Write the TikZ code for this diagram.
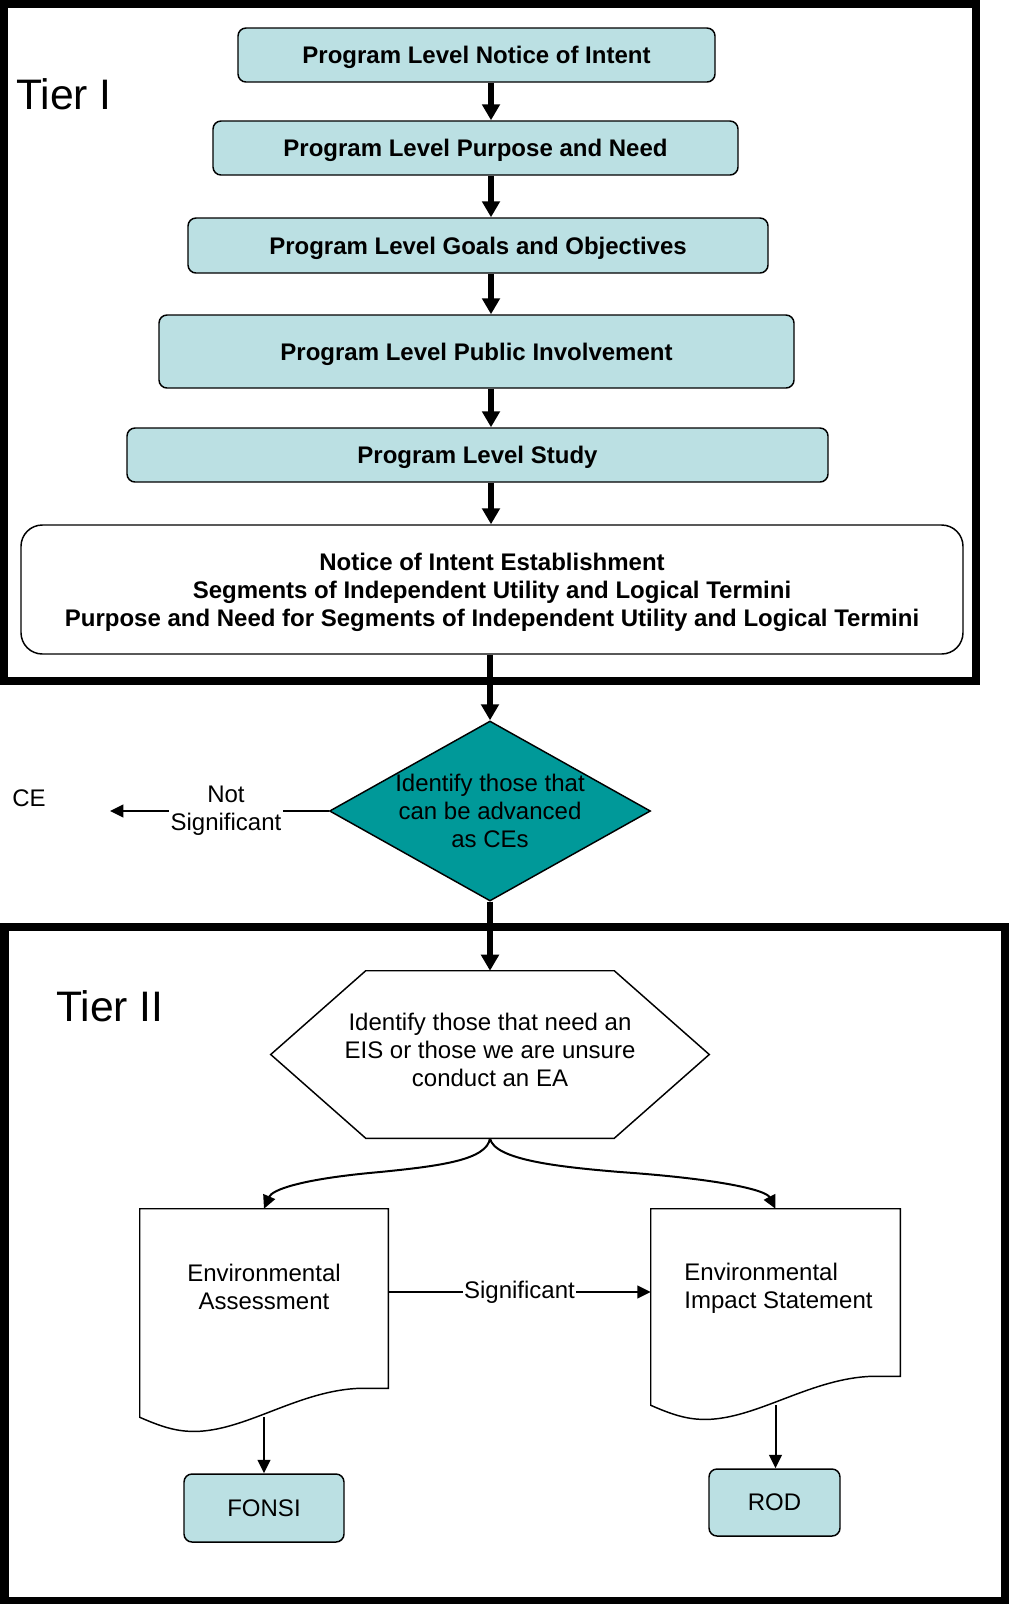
\documentclass[tikz,border=0pt]{standalone}
\usepackage{fontspec}
\setmainfont{Liberation Sans}
\usepackage{tikz}
\usetikzlibrary{arrows.meta}
\usetikzlibrary{shapes.geometric}
\usetikzlibrary{calc}
\definecolor{box teal}{HTML}{BBE0E3}
\definecolor{decision teal}{HTML}{009999}
\tikzset{
  plain/.style={inner sep=0pt, align=center, font=\fontsize{18pt}{21pt}\selectfont},
  stepbox/.style={draw, line width=1.1pt, rounded corners=6pt, fill=box teal, inner sep=0pt, text depth=0pt, align=center, font=\bfseries\fontsize{18pt}{21pt}\selectfont},
  endbox/.style={stepbox, font=\fontsize{18pt}{21pt}\selectfont},
  decision/.style={plain, shape=diamond, draw, line width=1.1pt, fill=decision teal, aspect=1.78, inner sep=-6pt, text depth=0pt},
  docbox/.style={inner sep=0pt},
  shapeline/.style={line width=1.1pt},
  tierframe/.style={line width=6pt},
  tierlabel/.style={inner sep=0pt, font=\fontsize{32pt}{36pt}\selectfont},
  bigarrow/.style={line width=4.3pt, -{Triangle[length=12pt,width=13pt]}},
  thinarrow/.style={line width=1.5pt, -{Triangle[length=10pt,width=9.5pt]}}
}
\newcommand{\docoutline}[1]{%
  \draw[shapeline] (#1.north west) -- (#1.south west)
    .. controls ($(#1.south west)+(25,11)$) and ($(#1.south west)+(40,15)$) .. ($(#1.south west)+(60,14)$)
    .. controls ($(#1.south west)+(110,11)$) and ($(#1.south east)+(-88,-27)$) .. ($(#1.south east)+(-28,-29)$)
    -- ($(#1.south east)+(0,-29)$) -- (#1.north east) -- cycle;}

\begin{document}
\begin{tikzpicture}[x=0.75pt,y=-0.75pt]
\useasboundingbox (0,0) rectangle (1008,1604);
\draw[tierframe] (4,4) rectangle (976,681);
\draw[tierframe] (4.5,927) rectangle (1004.5,1601);
\node[tierlabel, anchor=west] (tier one) at (16,94) {Tier I};
\node[tierlabel, anchor=west] (tier two) at (56,1006) {Tier II};

\coordinate (spine) at (491,0);
\node[stepbox, minimum width=357.75pt, minimum height=40.5pt] (b1) at (476.5,55) {Program Level Notice of Intent};
\node[stepbox, minimum width=393.75pt, minimum height=40.5pt] (b2) at (475.5,148) {Program Level Purpose and Need};
\node[stepbox, minimum width=435pt, minimum height=41.25pt] (b3) at (478,245.5) {Program Level Goals and Objectives};
\node[stepbox, minimum width=476.25pt, minimum height=54.75pt] (b4) at (476.5,351.5) {Program Level Public Involvement};
\node[stepbox, minimum width=525.75pt, minimum height=40.5pt] (b5) at (477.5,455) {Program Level Study};
\node[stepbox, fill=white, rounded corners=16pt, minimum width=706.5pt, minimum height=96.75pt] (b6) at (492,589.5) {Notice of Intent Establishment\\Segments of Independent Utility and Logical Termini\\Purpose and Need for Segments of Independent Utility and Logical Termini};
\foreach \a/\b in {b1/b2,b2/b3,b3/b4,b4/b5,b5/b6}
  \draw[bigarrow] (\a.south -| spine) -- (\b.north -| spine);

\node[decision, minimum width=240.75pt, minimum height=135pt] (dia) at (490,811) {Identify those that\\can be advanced\\as CEs};
\draw[bigarrow] (b6.south -| dia.north) -- (dia.north);
\node[plain] (ce) at (29,798) {CE};
\coordinate (ce tip) at (110,811);
\draw[thinarrow] (dia.west) -- node[pos=0.47, plain, fill=white, inner sep=1pt] (not sig) {Not\\Significant} (ce tip);

\node[plain, text depth=7.5pt, minimum width=328.5pt, minimum height=125.25pt] (hex) at (490,1054.5) {Identify those that need an\\EIS or those we are unsure\\conduct an EA};
\draw[shapeline] (hex.west) -- ([xshift=71.25pt]hex.north west) -- ([xshift=-71.25pt]hex.north east) -- (hex.east) -- ([xshift=-71.25pt]hex.south east) -- ([xshift=71.25pt]hex.south west) -- cycle;
\draw[bigarrow] (dia.south) -- (hex.north);

\node[docbox, minimum width=186pt, minimum height=156pt] (ea) at (264,1313) {};
\node[plain] (ea text) at ($(ea.north)+(0,78.5)$) {Environmental\\Assessment};
\docoutline{ea}
\node[docbox, minimum width=186.75pt, minimum height=147pt] (eis) at (775.5,1307) {};
\node[plain, align=left] (eis text) at ($(eis.north)+(3,80)$) {Environmental\\Impact Statement};
\docoutline{eis}

\draw[thinarrow] (hex.south) .. controls (487,1160) and (440,1166) .. (380,1172) .. controls (300,1179) and (272,1190) .. (ea.north);
\draw[thinarrow] (hex.south) .. controls (494,1160) and (560,1167) .. (620,1172) .. controls (720,1179) and (766,1190) .. (eis.north);

\coordinate (sig level) at (0,1292);
\draw[thinarrow] (ea.east |- sig level) -- node[plain, fill=white, inner sep=1pt] (sig) {Significant} (eis.west |- sig level);

\node[endbox, minimum width=120pt, minimum height=51pt] (fonsi) at (264,1508) {FONSI};
\node[endbox, minimum width=98.25pt, minimum height=50.25pt] (rod) at (774.5,1502.5) {ROD};
\draw[thinarrow] (ea.south) -- (fonsi.north);
\draw[thinarrow] (eis.south) -- (eis.south |- rod.north);
\end{tikzpicture}
\end{document}
